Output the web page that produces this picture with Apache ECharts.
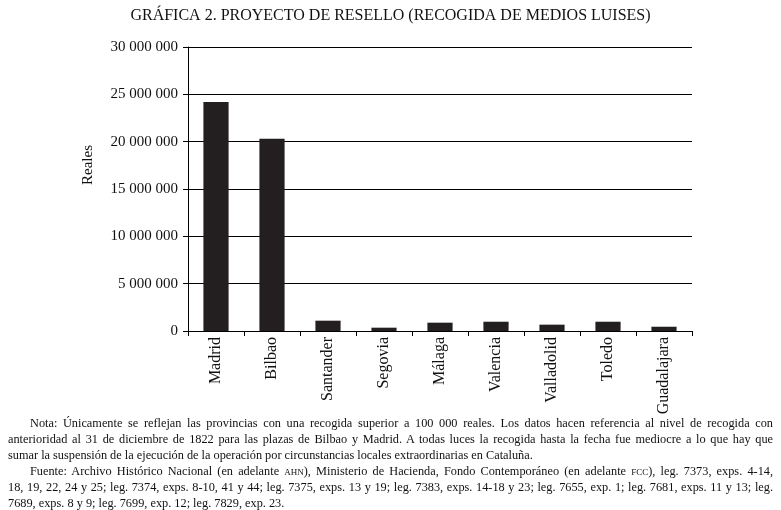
<!DOCTYPE html>
<html>
<head>
<meta charset="utf-8">
<script src="https://cdn.jsdelivr.net/npm/echarts@6/dist/echarts.min.js"></script>
<style>
  html, body { margin: 0; padding: 0; background: #fff; }
  #chart { position: absolute; left: 0; top: 0; width: 781px; height: 510px; }
  #notes { position: absolute; left: 8px; top: 415px; width: 765px; font-family: "Liberation Serif", serif; font-size: 12.3px; line-height: 16px; color: #111; }
  #notes div { text-align: justify; text-align-last: justify; white-space: nowrap; overflow: visible; }
  #notes div.last { text-align-last: left; }
  #notes .ind { padding-left: 22px; }
  .sc { font-variant: small-caps; text-transform: lowercase; }
</style>
</head>
<body>
<div id="chart"></div>
<div id="notes">
  <div class="ind">Nota: Únicamente se reflejan las provincias con una recogida superior a 100 000 reales. Los datos hacen referencia al nivel de recogida con</div>
  <div>anterioridad al 31 de diciembre de 1822 para las plazas de Bilbao y Madrid. A todas luces la recogida hasta la fecha fue mediocre a lo que hay que</div>
  <div class="last">sumar la suspensión de la ejecución de la operación por circunstancias locales extraordinarias en Cataluña.</div>
  <div class="ind">Fuente: Archivo Histórico Nacional (en adelante <span class="sc">AHN</span>), Ministerio de Hacienda, Fondo Contemporáneo (en adelante <span class="sc">FCC</span>), leg. 7373, exps. 4-14,</div>
  <div>18, 19, 22, 24 y 25; leg. 7374, exps. 8-10, 41 y 44; leg. 7375, exps. 13 y 19; leg. 7383, exps. 14-18 y 23; leg. 7655, exp. 1; leg. 7681, exps. 11 y 13; leg.</div>
  <div class="last">7689, exps. 8 y 9; leg. 7699, exp. 12; leg. 7829, exp. 23.</div>
</div>
<script>
const categories = ["Madrid", "Bilbao", "Santander", "Segovia", "Málaga", "Valencia", "Valladolid", "Toledo", "Guadalajara"];
const values = [24200000, 20300000, 1090000, 350000, 880000, 980000, 670000, 980000, 450000];
const titleText = "GRÁFICA 2. PROYECTO DE RESELLO (RECOGIDA DE MEDIOS LUISES)";
const yAxisName = "Reales";

const chart = echarts.init(document.getElementById('chart'), null, { renderer: 'canvas' });
const font = "Liberation Serif";
chart.setOption({
  animation: false,
  title: {
    text: titleText,
    left: 'center',
    top: 3,
    textStyle: { fontFamily: font, fontSize: 16, fontWeight: 'normal', color: '#111' }
  },
  graphic: [{
    type: 'text',
    x: 88, y: 165,
    rotation: Math.PI / 2,
    style: { text: yAxisName, fontFamily: font, fontSize: 15, fill: '#111', align: 'center', verticalAlign: 'middle' }
  }],
  grid: { left: 188, top: 47, width: 504, height: 284, containLabel: false },
  xAxis: {
    type: 'category',
    data: categories,
    axisLine: { lineStyle: { color: '#000', width: 1 } },
    axisTick: { show: true, length: 5, alignWithLabel: false, lineStyle: { color: '#000' } },
    axisLabel: { rotate: 90, interval: 0, margin: 6, fontFamily: font, fontSize: 16, color: '#111' }
  },
  yAxis: {
    type: 'value',
    min: 0, max: 30000000, interval: 5000000,
    axisLine: { show: true, lineStyle: { color: '#000', width: 1 } },
    axisTick: { show: true, length: 5, lineStyle: { color: '#000' } },
    splitLine: { show: true, lineStyle: { color: '#000', width: 1 } },
    axisLabel: {
      margin: 10, fontFamily: font, fontSize: 15, color: '#111',
      formatter: v => String(v).replace(/\B(?=(\d{3})+(?!\d))/g, ' ')
    }
  },
  series: [{
    type: 'bar',
    data: values,
    barWidth: '45%',
    itemStyle: { color: '#231f20' }
  }]
});
</script>
</body>
</html>
